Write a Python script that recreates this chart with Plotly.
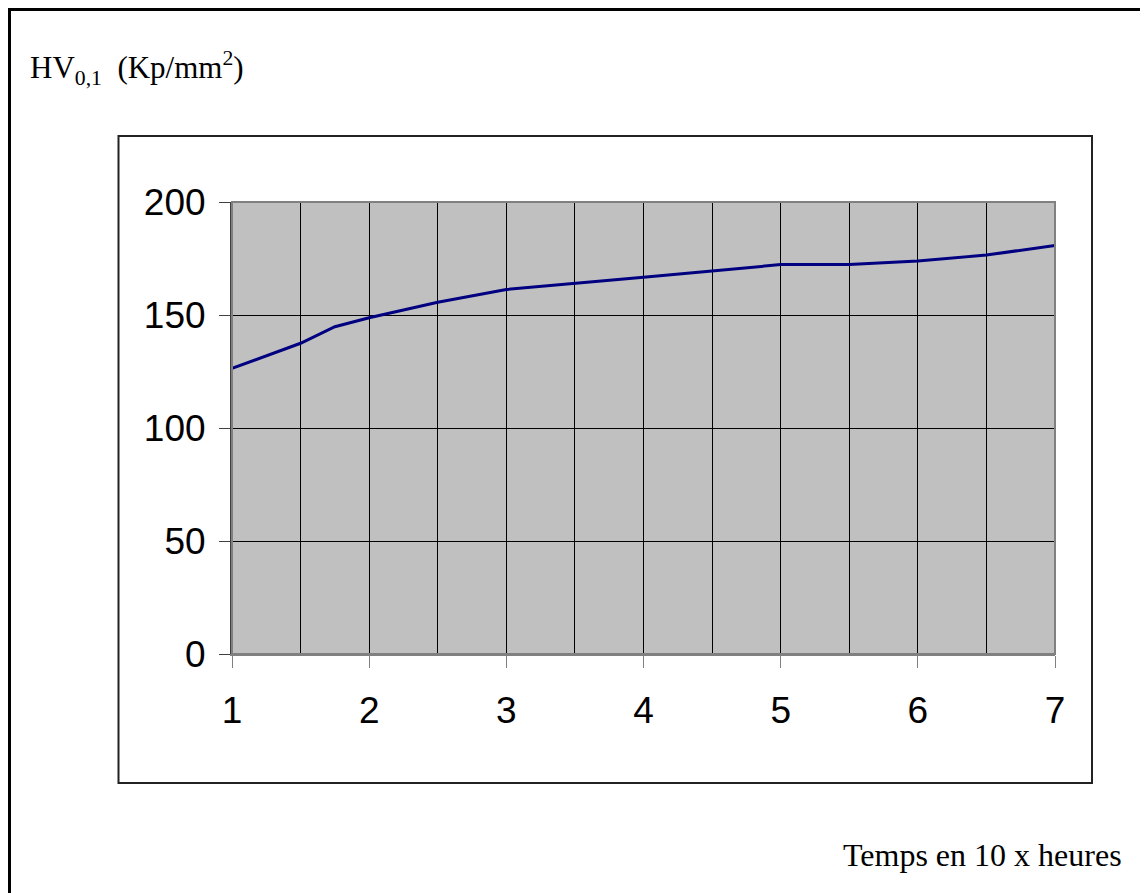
import plotly.graph_objects as go

# temps (x 10 heures) / durete HV0,1
temps = [1, 1.5, 1.75, 2, 2.5, 3, 4, 5, 5.5, 6, 6.5, 7]
durete = [126.4, 137.5, 144.8, 148.8, 155.6, 161.3, 166.7, 172.3, 172.3, 173.9, 176.5, 180.8]
x_ticks = [1, 2, 3, 4, 5, 6, 7]
y_ticks = [0, 50, 100, 150, 200]

# the page puts the figure 8px in from the window corner
OFF = 8
W, H = 1148 - OFF, 893 - OFF
L, R, T, B = 232 - OFF, 1055 - OFF, 202 - OFF, 654 - OFF


def px(x):
    return (x - OFF - L) / (R - L)


def py(y):
    return (B - (y - OFF)) / (B - T)


fig = go.Figure(go.Scatter(
    x=temps, y=durete, mode="lines",
    line={"color": "#000080", "width": 3},
    hoverinfo="skip",
))

tick_font = {"family": "Liberation Sans Narrow, Arial Narrow, Liberation Sans, Arial", "size": 37, "color": "black"}

fig.update_xaxes(
    range=[1, 7], tickvals=x_ticks, ticks="outside", ticklen=12, tickwidth=1,
    tickcolor="#808080", tickfont=tick_font, ticklabelstandoff=11,
    showgrid=True, gridcolor="black", gridwidth=1,
    minor={"dtick": 0.5, "showgrid": True, "gridcolor": "black", "gridwidth": 1},
    showline=True, linecolor="#808080", linewidth=2, zeroline=False,
)
fig.update_yaxes(
    range=[0, 200], tickvals=y_ticks, ticks="outside", ticklen=11, tickwidth=1,
    tickcolor="#404040", tickfont=tick_font, ticklabelstandoff=6,
    showgrid=True, gridcolor="black", gridwidth=1,
    showline=True, linecolor="#404040", linewidth=2, zeroline=False,
)

shapes = [
    # bordure du graphique
    dict(type="rect", xref="paper", yref="paper", x0=0, x1=1, y0=0, y1=1,
         line={"color": "#808080", "width": 2}, layer="above"),
    # cadre interieur
    dict(type="rect", xref="paper", yref="paper", x0=px(118.5), x1=px(1092),
         y0=py(783), y1=py(136), line={"color": "#222222", "width": 2}),
    # cadre exterieur
    dict(type="rect", xref="paper", yref="paper", x0=px(9.5), x1=px(1170),
         y0=py(920), y1=py(9.5), line={"color": "black", "width": 3}),
]

annotations = [
    dict(text="HV<sub>0,1</sub>  (Kp/mm<sup>2</sup>)", xref="paper", yref="paper",
         x=px(28), y=py(68), xanchor="left", yanchor="middle", showarrow=False,
         font={"family": "Liberation Serif, Times New Roman", "size": 31, "color": "black"}),
    dict(text="Temps en 10 x heures", xref="paper", yref="paper",
         x=px(1124), y=py(855), xanchor="right", yanchor="middle", showarrow=False,
         font={"family": "Liberation Serif, Times New Roman", "size": 32, "color": "black"}),
]

fig.update_layout(
    width=W, height=H,
    margin={"l": L, "r": W - R, "t": T, "b": H - B},
    paper_bgcolor="white", plot_bgcolor="#C0C0C0",
    showlegend=False, shapes=shapes, annotations=annotations,
)

fig.write_html("out.html")
